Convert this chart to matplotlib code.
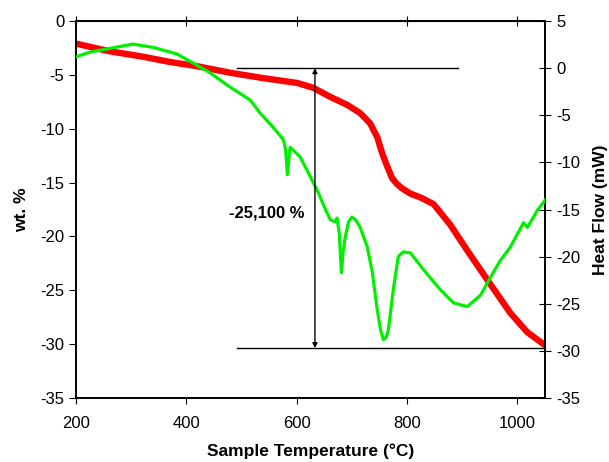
import numpy as np
import matplotlib.pyplot as plt

plt.rcParams['font.family'] = ['Liberation Sans', 'DejaVu Sans']
plt.rcParams['axes.unicode_minus'] = False

# weight loss curve (left axis)
temp_wt = [200, 260, 320, 370, 420, 479, 539, 601, 630, 661, 692, 715, 733, 746,
           755, 764, 773, 781, 790, 805, 825, 848, 878, 909, 945, 987, 1018, 1050]
wt = [-2.1, -2.8, -3.3, -3.8, -4.2, -4.8, -5.3, -5.75, -6.2, -7.05, -7.8, -8.55, -9.5,
      -10.8, -12.3, -13.5, -14.6, -15.1, -15.5, -16.0, -16.4, -17.0, -18.9, -21.3, -24.0,
      -27.1, -28.9, -30.1]

# heat flow curve (right axis)
temp_hf = [200, 225, 262, 303, 340, 383, 412, 443, 479, 516, 534, 557, 576, 580, 583,
           588, 606, 628, 639, 652, 661, 670, 673, 677, 681, 684, 688, 694, 700, 707,
           715, 728, 737, 746, 752, 757, 762, 766, 775, 784, 793, 806, 830, 860, 884,
           909, 933, 951, 969, 987, 1011, 1018, 1036, 1050]
hf = [1.2, 1.7, 2.1, 2.55, 2.2, 1.5, 0.55, -0.5, -2.0, -3.4, -4.8, -6.25, -7.6, -8.7,
      -11.3, -8.4, -9.4, -11.9, -13.2, -15.0, -16.1, -16.3, -15.9, -17.5, -21.7, -19.5,
      -17.9, -16.3, -15.8, -16.1, -16.9, -19.0, -21.7, -25.7, -27.8, -28.8, -28.6, -27.8,
      -23.5, -20.0, -19.5, -19.6, -21.4, -23.5, -24.9, -25.3, -24.1, -22.2, -20.4, -19.0,
      -16.4, -16.9, -15.1, -14.0]

step_top = 0.0
step_bottom = -29.7
step_x = 633
step_text = '-25,100 %'

fig = plt.figure(figsize=(6.09, 4.62), dpi=100)
ax = fig.add_axes([0.1248, 0.1385, 0.7702, 0.816])
ax2 = ax.twinx()

ax.plot(temp_wt, wt, color='#ff0000', lw=4.6, solid_joinstyle='round', zorder=2)
ax2.plot(temp_hf, hf, color='#00f000', lw=2.3, solid_joinstyle='round', zorder=3)

ax.set_xlim(200, 1050)
ax.set_ylim(-35, 0)
ax2.set_ylim(-35, 5)
ax.set_xticks([200, 400, 600, 800, 1000])
ax.set_yticks(np.arange(-35, 1, 5))
ax2.set_yticks(np.arange(-35, 6, 5))

ax.tick_params(axis='x', direction='out', length=4, labelsize=12, pad=9)
ax.tick_params(axis='y', direction='out', length=5, labelsize=12)
ax2.tick_params(axis='y', direction='inout', length=9, labelsize=12)
top = ax.secondary_xaxis('top')
top.set_xticks([200, 400, 600, 800, 1000])
top.tick_params(direction='inout', length=7, labeltop=False)

for a in (ax, ax2):
    for s in a.spines.values():
        s.set_linewidth(1.2)

ax.set_xlabel('Sample Temperature (°C)', fontsize=12.5, fontweight='bold', labelpad=9)
ax.set_ylabel('wt. %', fontsize=12.5, fontweight='bold', labelpad=8)
ax2.set_ylabel('Heat Flow (mW)', fontsize=12.5, fontweight='bold', labelpad=9)

# step annotation
ax2.plot([491, 893], [step_top, step_top], color='black', lw=1)
ax2.plot([491, 1050], [step_bottom, step_bottom], color='black', lw=1)
ax2.annotate('', xy=(step_x, step_top), xytext=(step_x, step_bottom),
             arrowprops=dict(arrowstyle='<|-|>', color='black', lw=1, mutation_scale=7,
                             shrinkA=0, shrinkB=0))
ax2.text(545, -15.4, step_text, fontsize=12, fontweight='bold', ha='center', va='center')

fig.savefig('out.png', dpi=100)
